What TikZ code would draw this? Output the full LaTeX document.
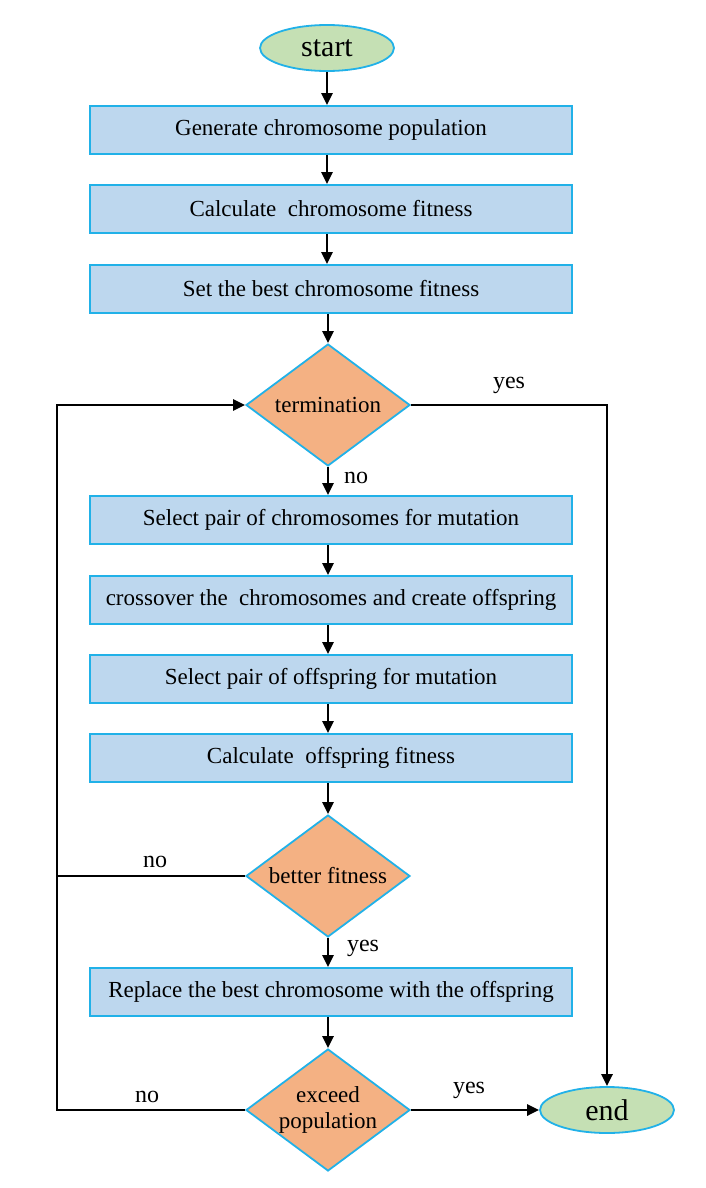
\documentclass[tikz,border=0pt]{standalone}
\usepackage{fontspec}
\setmainfont{Liberation Serif}
\usetikzlibrary{shapes.geometric,arrows.meta}
\definecolor{boxfill}{HTML}{BDD7EE}
\definecolor{edgeblue}{HTML}{21B1E8}
\definecolor{decfill}{HTML}{F4B183}
\definecolor{termfill}{HTML}{C5E0B4}
\tikzset{
  procbox/.style={draw=edgeblue, line width=1.8pt, fill=boxfill, minimum width=482pt, minimum height=48pt, inner sep=0pt, font=\fontsize{23}{26}\selectfont},
  decision/.style={diamond, draw=edgeblue, line width=1.8pt, fill=decfill, minimum width=164pt, minimum height=122pt, aspect=1.34, inner sep=0pt, font=\fontsize{23}{26}\selectfont, align=center},
  terminal/.style={ellipse, draw=edgeblue, line width=1.8pt, fill=termfill, minimum width=134pt, minimum height=46pt, inner sep=0pt, font=\fontsize{30}{34}\selectfont},
  flow/.style={draw=black, line width=2.8pt, -{Triangle[length=12pt,width=11pt]}},
  plainline/.style={draw=black, line width=2.8pt},
  lbl/.style={font=\fontsize{24}{27}\selectfont, inner sep=0pt}
}
\begin{document}
\begin{tikzpicture}[x=1pt,y=-1pt]
\useasboundingbox (0,0) rectangle (706,1188);
\node[terminal] (start) at (327,48) {start};
\node[procbox] (b1) at (331,130) {Generate chromosome population};
\node[procbox] (b2) at (331,209) {Calculate\ \ chromosome fitness};
\node[procbox] (b3) at (331,289) {Set the best chromosome fitness};
\node[decision] (d1) at (328,405) {termination};
\node[procbox] (b4) at (331,520) {Select pair of chromosomes for mutation};
\node[procbox] (b5) at (331,600) {crossover the\ \ chromosomes and create offspring};
\node[procbox] (b6) at (331,679) {Select pair of offspring for mutation};
\node[procbox] (b7) at (331,758) {Calculate\ \ offspring fitness};
\node[decision] (d2) at (328,876) {better fitness};
\node[procbox] (b8) at (331,992) {Replace the best chromosome with the offspring};
\node[decision] (d3) at (328,1110) {exceed\\population};
\node[terminal] (end) at (607,1110) {end};

\coordinate (lt) at (57,405);
\coordinate (lm) at (57,876);
\coordinate (lb) at (57,1110);
\coordinate (rt) at (607,405);

\draw[flow] (start) -- (start |- b1.north);
\draw[flow] (b1.south -| start) -- (start |- b2.north);
\draw[flow] (b2.south -| start) -- (start |- b3.north);
\draw[flow] (b3.south -| d1) -- (d1.north);
\draw[flow] (d1.south) -- (d1 |- b4.north);
\draw[flow] (b4.south -| d1) -- (d1 |- b5.north);
\draw[flow] (b5.south -| d1) -- (d1 |- b6.north);
\draw[flow] (b6.south -| d1) -- (d1 |- b7.north);
\draw[flow] (b7.south -| d1) -- (d2.north);
\draw[flow] (d2.south) -- (d2 |- b8.north);
\draw[flow] (b8.south -| d2) -- (d3.north);
\draw[flow] (d3.east) -- (end.west);
\draw[flow] (d1.east) -- (rt) -- (end.north);
\draw[flow] (d3.west) -- (lb) -- (lt) -- (d1.west);
\draw[plainline] (d2.west) -- (lm);

\node[lbl] (yes1) at (509,385) {yes};
\node[lbl] (no1) at (356,478) {no};
\node[lbl] (no2) at (155,862) {no};
\node[lbl] (yes2) at (363,948) {yes};
\node[lbl] (no3) at (147,1097) {no};
\node[lbl] (yes3) at (469,1090) {yes};
\end{tikzpicture}
\end{document}
